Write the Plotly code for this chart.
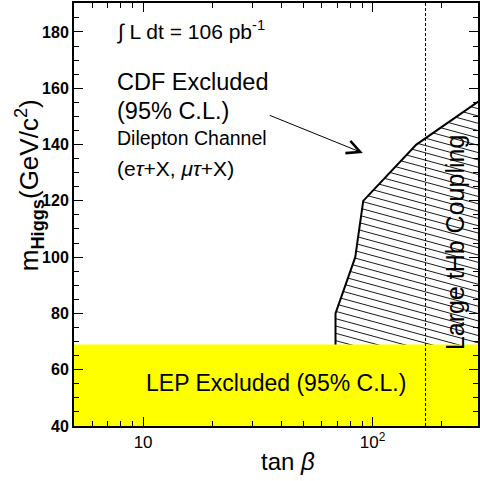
import numpy as np
import plotly.graph_objects as go

# ---- data ----
tan_beta_boundary = [68.9, 68.9, 84.0, 91.0, 155.0, 350.0]
m_higgs_boundary = [40.0, 80.0, 100.0, 120.0, 140.0, 160.0]
lep_limit = 69.0
tan_beta_large_coupling = 170.0
x_tick_vals = [10, 100]
x_tick_text = ["10", "10<sup>2</sup>"]
x_minor_vals = [5, 6, 7, 8, 9, 20, 30, 40, 50, 60, 70, 80, 90, 200, 300]
y_range = [40, 190.3]
x_range_log = [np.log10(5.0), 2.459]

FONT = "Liberation Sans, Arial, sans-serif"

# plot-area pixel geometry (for annotation placement)
L, R, T, B = 74, 480, 3, 426
def px(x):
    return (x - L) / (R - L)
def py(y):
    return (B - y) / (B - T)

fig = go.Figure()

# ---- hatch lines computed from the boundary ----
ub = np.log10(np.array(tan_beta_boundary))
vb = np.array(m_higgs_boundary)
slope = 22.2          # data units per decade (visual slant of hatching)
spacing = 2.6
u_grid = np.linspace(x_range_log[0], 2.7, 3000)
hx, hy = [], []
for c in np.arange(40 + slope * 1.8, 200 + slope * 2.7, spacing):
    v = c - slope * u_grid
    f = u_grid - np.interp(v, vb, ub)
    idx = np.where(f >= 0)[0]
    if len(idx) == 0:
        continue
    u0 = u_grid[idx[0]]
    u1 = 2.7
    hx += [10 ** u0, 10 ** u1, None]
    hy += [c - slope * u0, c - slope * u1, None]

fig.add_trace(go.Scatter(x=hx, y=hy, mode="lines",
                         line=dict(color="black", width=0.9),
                         hoverinfo="skip", showlegend=False))

# boundary line
fig.add_trace(go.Scatter(x=tan_beta_boundary, y=m_higgs_boundary, mode="lines",
                         line=dict(color="black", width=2),
                         showlegend=False))

# LEP excluded band
fig.add_trace(go.Scatter(x=[3, 500, 500, 3], y=[y_range[0] - 5, y_range[0] - 5, lep_limit, lep_limit],
                         fill="toself", fillcolor="#ffff00", mode="lines",
                         line=dict(width=0, color="#ffff00"), showlegend=False))

# dashed line: large tHb coupling
fig.add_trace(go.Scatter(x=[tan_beta_large_coupling, tan_beta_large_coupling],
                         y=[y_range[0], y_range[1] + 5], mode="lines",
                         line=dict(color="black", width=1, dash="3px,2px"),
                         showlegend=False))

annots = [
    dict(text="∫ L dt = 106 pb<sup>-1</sup>", x=px(115), y=py(31), xanchor="left", size=21),
    dict(text="CDF Excluded", x=px(115), y=py(82), xanchor="left", size=23.5),
    dict(text="(95% C.L.)", x=px(115), y=py(111), xanchor="left", size=23.5),
    dict(text="Dilepton Channel", x=px(115), y=py(138), xanchor="left", size=19.5),
    dict(text="(e<i>τ</i>+X, <i>μτ</i>+X)", x=px(115), y=py(168), xanchor="left", size=21),
    dict(text="LEP Excluded (95% C.L.)", x=px(277), y=py(383), xanchor="center", size=23),
    dict(text="Large tHb Coupling", x=px(457), y=py(243), xanchor="center", size=25, angle=-90),
    dict(text="m<sub><b>Higgs</b></sub>(GeV/c<sup>2</sup>)", x=px(29), y=py(185), xanchor="center", size=26, angle=-90),
    dict(text="tan <i>β</i>", x=px(289), y=py(461), xanchor="center", size=24),
]
for a in annots:
    fig.add_annotation(text=a["text"], x=a["x"], y=a["y"], xref="paper", yref="paper",
                       xanchor=a["xanchor"], yanchor="middle", showarrow=False,
                       textangle=a.get("angle", 0),
                       font=dict(family=FONT, size=a["size"], color="black"))

# arrow
fig.add_annotation(x=np.log10(90.6), y=137.0, ax=np.log10(35.1), ay=150.6,
                   xref="x", yref="y", axref="x", ayref="y",
                   showarrow=True, arrowhead=5, arrowsize=2.6, arrowwidth=1,
                   arrowcolor="black", text="")

fig.update_layout(
    width=480, height=481,
    margin=dict(l=L, r=0, t=T, b=481 - B),
    paper_bgcolor="white", plot_bgcolor="white",
    showlegend=False,
    xaxis=dict(type="log", range=x_range_log, tickvals=x_tick_vals, ticktext=x_tick_text,
               ticks="inside", ticklen=9, tickwidth=1, tickcolor="black",
               showline=True, linecolor="black", linewidth=2, mirror="ticks",
               showgrid=False, zeroline=False,
               tickfont=dict(family=FONT, size=17, color="black"),
               minor=dict(tickvals=x_minor_vals, ticks="inside", ticklen=5,
                          tickwidth=1, tickcolor="black", showgrid=False)),
    yaxis=dict(range=y_range, tickvals=[40, 60, 80, 100, 120, 140, 160, 180],
               ticks="inside", ticklen=9, tickwidth=1, tickcolor="black",
               showline=True, linecolor="black", linewidth=2, mirror="ticks",
               showgrid=False, zeroline=False,
               tickfont=dict(family="Liberation Sans, Arial", size=16, color="black", weight="bold"),
               minor=dict(dtick=5, ticks="inside", ticklen=5, tickwidth=1,
                          tickcolor="black", showgrid=False)),
)

fig.write_html("out.html")
